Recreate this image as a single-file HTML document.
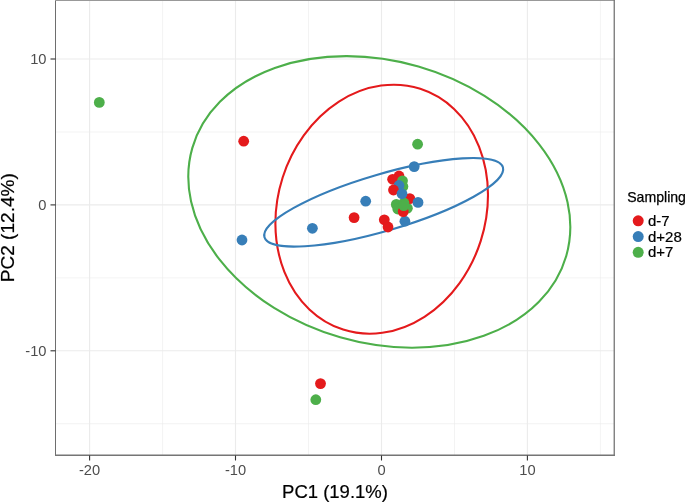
<!DOCTYPE html>
<html><head><meta charset="utf-8"><title>PCA</title>
<style>
html,body{margin:0;padding:0;background:#fff;}
svg{display:block;}
text{font-family:"Liberation Sans",sans-serif;}
</style></head><body>
<svg width="685" height="502" viewBox="0 0 685 502">
<rect width="685" height="502" fill="#fff"/>
<clipPath id="c"><rect x="55.5" y="0.5" width="559" height="455"/></clipPath>
<g clip-path="url(#c)">
<line x1="162.6" x2="162.6" y1="0" y2="455" stroke="#EBEBEB" stroke-width="0.6"/>
<line x1="308.5" x2="308.5" y1="0" y2="455" stroke="#EBEBEB" stroke-width="0.6"/>
<line x1="454.5" x2="454.5" y1="0" y2="455" stroke="#EBEBEB" stroke-width="0.6"/>
<line x1="600.4" x2="600.4" y1="0" y2="455" stroke="#EBEBEB" stroke-width="0.6"/>
<line x1="55" x2="614" y1="132.0" y2="132.0" stroke="#EBEBEB" stroke-width="0.6"/>
<line x1="55" x2="614" y1="277.9" y2="277.9" stroke="#EBEBEB" stroke-width="0.6"/>
<line x1="55" x2="614" y1="423.7" y2="423.7" stroke="#EBEBEB" stroke-width="0.6"/>
<line x1="89.6" x2="89.6" y1="0" y2="455" stroke="#EBEBEB" stroke-width="1.1"/>
<line x1="235.5" x2="235.5" y1="0" y2="455" stroke="#EBEBEB" stroke-width="1.1"/>
<line x1="381.5" x2="381.5" y1="0" y2="455" stroke="#EBEBEB" stroke-width="1.1"/>
<line x1="527.4" x2="527.4" y1="0" y2="455" stroke="#EBEBEB" stroke-width="1.1"/>
<line x1="55" x2="614" y1="59.0" y2="59.0" stroke="#EBEBEB" stroke-width="1.1"/>
<line x1="55" x2="614" y1="204.9" y2="204.9" stroke="#EBEBEB" stroke-width="1.1"/>
<line x1="55" x2="614" y1="350.8" y2="350.8" stroke="#EBEBEB" stroke-width="1.1"/>
<ellipse cx="381.70" cy="209.20" rx="126.42" ry="104.01" transform="rotate(107.77 381.70 209.20)" fill="none" stroke="#E41A1C" stroke-width="2.1"/>
<ellipse cx="383.70" cy="202.30" rx="124.27" ry="28.27" transform="rotate(163.63 383.70 202.30)" fill="none" stroke="#377EB8" stroke-width="2.1"/>
<ellipse cx="379.30" cy="201.90" rx="194.60" ry="140.96" transform="rotate(-163.88 379.30 201.90)" fill="none" stroke="#4DAF4A" stroke-width="2.1"/>
<circle cx="99.3" cy="102.4" r="5.4" fill="#4DAF4A"/>
<circle cx="243.7" cy="141.2" r="5.4" fill="#E41A1C"/>
<circle cx="242" cy="240" r="5.4" fill="#377EB8"/>
<circle cx="312.4" cy="228.3" r="5.4" fill="#377EB8"/>
<circle cx="320.5" cy="383.6" r="5.4" fill="#E41A1C"/>
<circle cx="315.8" cy="399.7" r="5.4" fill="#4DAF4A"/>
<circle cx="417.6" cy="144.2" r="5.4" fill="#4DAF4A"/>
<circle cx="414.2" cy="166.6" r="5.4" fill="#377EB8"/>
<circle cx="365.7" cy="201.2" r="5.4" fill="#377EB8"/>
<circle cx="354.1" cy="217.6" r="5.4" fill="#E41A1C"/>
<circle cx="384.3" cy="219.8" r="5.4" fill="#E41A1C"/>
<circle cx="388" cy="227" r="5.4" fill="#E41A1C"/>
<circle cx="404.9" cy="221.2" r="5.4" fill="#377EB8"/>
<circle cx="396.3" cy="204.4" r="5.4" fill="#4DAF4A"/>
<circle cx="397.8" cy="209" r="5.4" fill="#4DAF4A"/>
<circle cx="407.4" cy="208.2" r="5.4" fill="#4DAF4A"/>
<circle cx="409.8" cy="198.6" r="5.4" fill="#E41A1C"/>
<circle cx="404.0" cy="203.0" r="5.4" fill="#4DAF4A"/>
<circle cx="403.2" cy="211.6" r="5.4" fill="#E41A1C"/>
<circle cx="403.8" cy="205.7" r="5.4" fill="#4DAF4A"/>
<circle cx="418.0" cy="202.4" r="5.4" fill="#377EB8"/>
<circle cx="399" cy="176" r="5.4" fill="#E41A1C"/>
<circle cx="392.6" cy="179.3" r="5.4" fill="#E41A1C"/>
<circle cx="402.5" cy="180.8" r="5.4" fill="#4DAF4A"/>
<circle cx="402.9" cy="186.5" r="5.4" fill="#4DAF4A"/>
<circle cx="399" cy="185.5" r="5.4" fill="#377EB8"/>
<circle cx="393.5" cy="190" r="5.4" fill="#E41A1C"/>
<circle cx="402.0" cy="193.8" r="5.4" fill="#377EB8"/>
</g>
<line x1="55.5" x2="55.5" y1="0" y2="455.9" stroke="#6e6e6e" stroke-width="1"/>
<line x1="55" x2="614.9" y1="0.5" y2="0.5" stroke="#999" stroke-width="1"/>
<line x1="614.25" x2="614.25" y1="0" y2="455.9" stroke="#757575" stroke-width="1.3"/>
<line x1="55" x2="614.9" y1="455.25" y2="455.25" stroke="#757575" stroke-width="1.3"/>
<line x1="89.6" x2="89.6" y1="455.5" y2="460.5" stroke="#333" stroke-width="1.1"/>
<text x="89.6" y="475.0" font-size="14.7" fill="#4D4D4D" text-anchor="middle">-20</text>
<line x1="235.5" x2="235.5" y1="455.5" y2="460.5" stroke="#333" stroke-width="1.1"/>
<text x="235.5" y="475.0" font-size="14.7" fill="#4D4D4D" text-anchor="middle">-10</text>
<line x1="381.5" x2="381.5" y1="455.5" y2="460.5" stroke="#333" stroke-width="1.1"/>
<text x="381.5" y="475.0" font-size="14.7" fill="#4D4D4D" text-anchor="middle">0</text>
<line x1="527.4" x2="527.4" y1="455.5" y2="460.5" stroke="#333" stroke-width="1.1"/>
<text x="527.4" y="475.0" font-size="14.7" fill="#4D4D4D" text-anchor="middle">10</text>
<line x1="50.5" x2="55.5" y1="59.0" y2="59.0" stroke="#333" stroke-width="1.1"/>
<text x="46.5" y="64.4" font-size="14.7" fill="#4D4D4D" text-anchor="end">10</text>
<line x1="50.5" x2="55.5" y1="204.9" y2="204.9" stroke="#333" stroke-width="1.1"/>
<text x="46.5" y="210.3" font-size="14.7" fill="#4D4D4D" text-anchor="end">0</text>
<line x1="50.5" x2="55.5" y1="350.8" y2="350.8" stroke="#333" stroke-width="1.1"/>
<text x="46.5" y="356.2" font-size="14.7" fill="#4D4D4D" text-anchor="end">-10</text>
<text x="335" y="497.5" font-size="18.5" fill="#000" stroke="#000" stroke-width="0.2" text-anchor="middle">PC1 (19.1%)</text>
<text transform="translate(13.8 227.7) rotate(-90) scale(1.03 1)" font-size="18.5" fill="#000" stroke="#000" stroke-width="0.2" text-anchor="middle">PC2 (12.4%)</text>
<text x="627.2" y="201.8" font-size="14.1" fill="#000" stroke="#000" stroke-width="0.25">Sampling</text>
<circle cx="638.2" cy="220.8" r="5.5" fill="#E41A1C"/>
<text x="648" y="225.8" font-size="15" fill="#000" stroke="#000" stroke-width="0.2">d-7</text>
<circle cx="638.2" cy="236.55" r="5.5" fill="#377EB8"/>
<text x="648" y="241.55" font-size="15" fill="#000" stroke="#000" stroke-width="0.2">d+28</text>
<circle cx="638.2" cy="252.3" r="5.5" fill="#4DAF4A"/>
<text x="648" y="257.3" font-size="15" fill="#000" stroke="#000" stroke-width="0.2">d+7</text>
</svg></body></html>
